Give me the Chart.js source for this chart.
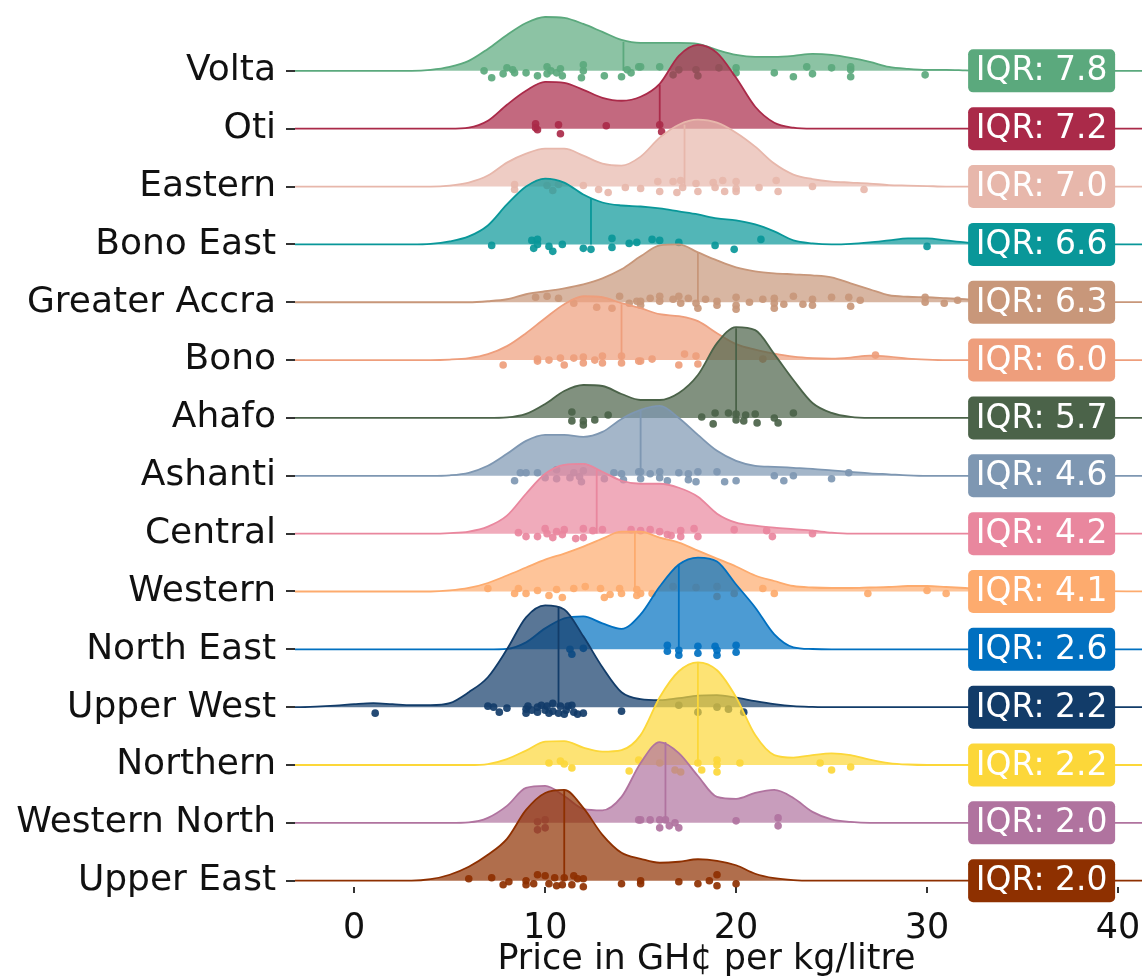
<!DOCTYPE html>
<html>
<head>
<meta charset="utf-8">
<script src="https://cdn.jsdelivr.net/npm/chart.js@4.4.1/dist/chart.umd.min.js"></script>
<style>
  html, body { margin: 0; padding: 0; background: #fff; overflow: hidden; }
  #wrap { width: 1142px; height: 979px; }
</style>
</head>
<body>
<div id="wrap"><canvas id="ridges" width="1142" height="979"></canvas></div>
<script>
// regions, top row first
const regions = ['Volta', 'Oti', 'Eastern', 'Bono East', 'Greater Accra', 'Bono', 'Ahafo', 'Ashanti',
  'Central', 'Western', 'North East', 'Upper West', 'Northern', 'Western North', 'Upper East'];
const regionColors = ['#5BA97D', '#AA2A49', '#E7B7AB', '#099799', '#C8977A', '#EE9E7C', '#4B6349', '#7E97B2',
  '#E9879E', '#FDAB6E', '#0070C0', '#123C69', '#FCD739', '#B0739F', '#8E3000'];
const iqrValues = [7.8, 7.2, 7.0, 6.6, 6.3, 6.0, 5.7, 4.6, 4.2, 4.1, 2.6, 2.2, 2.2, 2.0, 2.0];
const priceTicks = [0, 10, 20, 30, 40];

// density heights (scaled, one row = 58) on this price grid
const priceGrid = [-3, -2, -1, 0, 1, 2, 3, 4, 5, 6, 7, 8, 9, 10, 11, 12, 13, 14, 15, 16, 17, 18,
  19, 20, 21, 22, 23, 24, 25, 26, 27, 28, 29, 30, 31, 32, 33];
const voltaDensity = [0,0,0,0,0,0,0, 1,4,10,22,36,48,54,53,47,39,31,28,28,28,27,21,16,14,14,15,17,16,13,9,4,2,1,1,0.5,0];
const otiDensity = [0,0,0,0,0,0,0,0,0, 1,8,24,38,47,46,39,31,28,32,45,73,84,76,51,22,6,1, 0,0,0,0,0,0,0,0,0,0];
const easternDensity = [0,0,0,0,0,0,0,0, 1,4,11,24,33,38,38,31,23,21,30,49,62,67,64,54,40,23,12,7.5,5,4,3,1.5,1,0.5,0,0,0];
const bonoEastDensity = [0,0,0,0,0,0,0, 0.5,3,8,19,40,58,66,62,50,42,39,38,36,33,30,26,24,20,13,4,1,0,0.5,2,4,6,6,4,2,0.5];
const greaterAccraDensity = [0,0,0,0,0,0,0,0,0,0, 1,3,8,11,14,18,24,33,46,57,58,50,42,35,31,29,28,27,25,19,13,7,5.5,5,4,3,2];
const bonoDensity = [0,0,0,0,0,0,0,0, 0.5,2,6,14,27,42,56,64,63,57,52,46,44,39,27,16,10.5,6.5,3.5,2,1.5,2.5,4.5,3.5,1.5,0.5,0,0,0];
const ahafoDensity = [0,0,0,0,0,0,0,0,0,0,0, 0.5,4,14,27,33,32,24,18,18,25,43,75,91,88,64,38,15,5,1, 0,0,0,0,0,0,0];
const ashantiDensity = [0,0,0,0,0,0,0,0, 0.5,3,10,22,35,41,41,39,44,57,66,70,58,41,25,15,10,9,8,7,5.5,4,2.5,1.5,0.5, 0,0,0,0];
const centralDensity = [0,0,0,0,0,0,0,0, 0.5,2,7,18,40,60,69,70,62,53,50,50,46,37,20,11,8,6,4.5,3,1, 0,0,0,0,0,0,0,0];
const westernDensity = [0,0,0,0,0,0,0,0, 1,3.5,8.5,16,24,32,38,45,53,60,60,54,49,41,33,25,16,10.5,5.5,4,3.5,3.5,4,4.5,5.5,5.5,4.5,3.5,2.5];
const northEastDensity = [0,0,0,0,0,0,0,0,0,0,0, 0.5,7,21,31,33,26,20.5,35,63,85,92,88,65,42,15,2,0.3, 0,0,0,0,0,0,0,0,0];
const upperWestDensity = [0,0.5,1.5,3,4,3,2,2,4,15,30,58,90,102,98,71,40,15,8,7,9,11.5,12,9.5,6,3,1,0.3, 0,0,0,0,0,0,0,0,0];
const northernDensity = [0,0,0,0,0,0,0,0,0,0, 1,6,14.5,23.5,24,17.5,13.5,15,30,68,94,103,95,68,30,10,7.5,10,11.7,10,5.5,2,0.5, 0,0,0,0];
const westernNorthDensity = [0,0,0,0,0,0,0,0,0, 0.5,5,17,35,37,27,14,12.5,26,60,81,70,47,26,24,30,33,25,11,3.5,1, 0,0,0,0,0,0,0];
const upperEastDensity = [0,0,0,0,0,0,0, 1.5,6,14,26,42,71,88,91,73,46,28,22,18,19,21.5,20,15.5,7,2.5,0.5, 0,0,0,0,0,0,0,0,0,0];

// medians and the curve height where the median line stops
const medians = [14.1, 16.0, 17.3, 12.4, 18.0, 14.0, 20.0, 15.0, 12.7, 14.7, 17.0, 10.7, 18.0, 16.3, 11.0];
const medianHeights = [29, 44, 62, 46, 50, 56, 90, 66, 64, 60, 85, 101, 103, 81, 91];

// jittered observations: price, and vertical jitter (same units as heights)
const voltaDots = [6.8,7.2,7.8,8.0,8.3,8.4,9.0,9.6,10.1,10.1,10.3,10.6,10.8,10.9,12.0,12.0,11.9,13.1,14.0,14.3,
  14.5,14.9,15.0,16.0,16.7,17.0,17.9,18.0,19.1,20.0,20.0,22.0,23.0,23.7,24.0,25.0,26.0,26.0,26.0,29.9];
const voltaJitter = [0,-7,-3,3,1,-2,-2,-5,4,-3,0,-2,2,-5,6,0,-7,-5,-6,1,-2,4,4,4,-4,1,1,-5,3,3,-2,-2,-6,4,-3,3,4,-6,1,-4];
const otiDots = [9.5,9.5,9.6,10.7,10.8,13.2,16.0,16.1];
const otiJitter = [5,1,-1,4,-5,3,4,-3];
const easternDots = [8.4,8.4,10.1,10.4,10.7,12.0,12.8,13.3,14.2,15.0,15.9,16.0,16.7,16.9,17.1,17.2,17.9,18.0,18.8,18.9,
  19.3,19.4,20.0,20.0,20.0,21.2,22.1,22.2,24.0,26.7];
const easternJitter = [2,-3,1,-4,2,1,-3,-6,-1,-2,5,-5,5,-6,6,-1,3,-5,4,-1,6,-5,5,-2,-5,-1,6,-5,0,-3];
const bonoEastDots = [7.2,9.3,9.4,9.6,9.6,10.2,10.4,10.9,12.0,12.4,13.5,13.5,14.4,14.8,15.6,16.0,17.0,18.9,19.9,21.3,30.0];
const bonoEastJitter = [-1,4,-4,5,0,-2,-7,0,-4,-5,6,-3,1,2,5,4,2,-1,-5,5,-2];
const greaterAccraDots = [9.5,10.1,10.7,11.5,12.7,13.5,13.9,14.4,14.8,15.0,15.0,15.5,16.0,16.0,16.7,17.0,17.1,17.5,17.9,18.0,
  18.4,19.0,19.0,20.0,20.0,20.0,20.7,21.4,22.0,22.0,22.0,22.5,23.0,23.5,24.0,24.0,25.0,25.9,26.0,26.5,29.9,29.9,30.9,31.6];
const greaterAccraJitter = [5,6,4,-1,-5,-6,6,-1,1,1,-3,4,6,1,3,6,-1,4,-1,-6,3,1,-3,5,-3,-7,0,3,4,-1,-6,-2,6,-2,3,-3,5,5,-4,2,5,0,-1,2];
const bonoDots = [7.8,9.6,9.6,10.2,10.8,11.0,11.5,12.0,12.0,12.6,13.0,13.0,14.0,14.0,14.9,15.0,15.6,17.0,17.3,17.9,18.0,21.4,27.3];
const bonoJitter = [-5,1,-1,0,2,-5,2,3,-3,0,4,-3,4,-3,-1,-1,1,-5,6,4,-4,1,5];
const ahafoDots = [11.4,11.4,12.0,12.0,12.6,13.3,18.2,18.9,18.8,19.6,20.0,20.0,20.4,20.5,21.0,21.1,22.0,22.2,23.0];
const ahafoJitter = [6,-3,-3,-7,-2,3,1,5,-6,5,4,-2,-3,3,4,-5,0,-5,5];
const ashantiDots = [8.4,8.7,9.0,9.6,10.0,10.6,10.6,11.3,11.5,11.8,12.0,11.9,13.1,13.6,14.0,14.1,14.9,15.0,15.0,15.5,
  16.0,16.0,16.4,17.0,17.5,17.5,17.9,18.0,19.0,19.4,20.0,22.0,22.5,23.0,25.0,25.9];
const ashantiJitter = [-5,3,3,3,-2,6,-3,-2,3,-1,5,-6,-3,3,2,-4,4,4,-3,2,4,-2,-5,3,2,-4,-6,4,4,-6,-5,0,-5,0,-3,3];
const centralDots = [8.6,9.0,9.6,10.0,10.1,10.4,10.6,10.9,11.0,11.6,12.0,12.0,12.5,13.0,14.5,15.0,15.5,16.0,16.4,16.6,
  17.1,17.1,17.8,18.0,19.9,21.6,21.9,24.0];
const centralJitter = [1,-3,-3,5,0,-4,2,-1,4,-5,5,-4,3,4,4,3,4,2,-1,-2,3,-3,5,-3,4,3,-3,0];
const westernDots = [7.0,8.4,8.6,9.0,9.6,10.2,10.6,10.9,11.5,12.1,12.9,13.1,13.4,13.9,14.0,14.8,14.8,15.0,15.6,16.7,
  17.9,19.0,19.0,19.9,21.4,22.0,26.9,30.0,31.0];
const westernJitter = [3,-2,3,-2,1,-4,2,-6,3,5,3,-6,-3,3,-2,2,-4,-2,-2,5,4,5,-5,-2,3,-2,-2,1,-2];
const northEastDots = [11.3,11.4,12.0,16.4,16.4,17.0,17.0,18.0,18.0,18.9,19.0,19.0,20.0,20.0];
const northEastJitter = [0,-5,1,4,-2,-1,-6,3,-4,3,-1,-6,4,-3];
const upperWestDots = [1.1,7.0,7.3,7.6,8.0,9.0,9.0,9.1,9.6,9.6,10.0,10.1,10.4,10.4,10.8,11.0,11.1,11.4,11.5,11.7,
  12.0,14.0,17.0,18.0,19.0,19.6,20.4,9.3,10.7,11.2,10.2,9.8];
const upperWestJitter = [-6,1,0,-5,-1,-2,-6,1,0,-5,-3,1,4,-4,1,-7,-3,2,-5,-7,-6,-4,2,-5,0,-2,-5,-3,-6,1,-6,2];
const northernDots = [10.2,10.8,11.0,11.4,14.4,14.9,16.0,16.8,17.1,18.0,18.2,19.0,19.0,19.0,20.2,24.4,25.0,26.0];
const northernJitter = [2,4,1,-3,-6,5,2,-5,-7,2,-5,5,0,-7,2,2,-5,-2];
const westernNorthDots = [9.6,9.6,10.0,10.0,14.9,15.0,15.5,16.0,16.0,16.3,16.5,16.8,17.0,20.0,22.2,22.2];
const westernNorthJitter = [1,-7,3,-5,3,3,3,3,-5,3,-3,0,-5,2,5,-3];
const upperEastDots = [6.0,7.2,7.8,8.1,9.0,9.0,9.4,9.6,10.0,10.2,10.5,10.6,10.9,11.0,11.4,11.5,11.7,12.0,12.0,14.0,
  15.0,15.0,17.0,18.0,18.6,19.0,19.0,20.0];
const upperEastJitter = [2,3,-4,-1,0,-4,-3,6,5,-3,3,-5,-4,3,-4,5,2,2,-6,-3,0,-3,-1,-3,0,-5,6,-3];

const densities = [voltaDensity, otiDensity, easternDensity, bonoEastDensity, greaterAccraDensity, bonoDensity,
  ahafoDensity, ashantiDensity, centralDensity, westernDensity, northEastDensity, upperWestDensity,
  northernDensity, westernNorthDensity, upperEastDensity];
const dotPrices = [voltaDots, otiDots, easternDots, bonoEastDots, greaterAccraDots, bonoDots, ahafoDots, ashantiDots,
  centralDots, westernDots, northEastDots, upperWestDots, northernDots, westernNorthDots, upperEastDots];
const dotJitters = [voltaJitter, otiJitter, easternJitter, bonoEastJitter, greaterAccraJitter, bonoJitter, ahafoJitter,
  ashantiJitter, centralJitter, westernJitter, northEastJitter, upperWestJitter, northernJitter, westernNorthJitter, upperEastJitter];

const rowGap = 58;
const xMin = -3.1, xMax = 40, xEdge = 41.3;
const iqrAt = 36;
const FONT = "'DejaVu Sans', sans-serif";

function rowBase(i) {
  return (regions.length - 1 - i) * rowGap;
}

function withAlpha(hex, a) {
  const n = parseInt(hex.slice(1), 16);
  return 'rgba(' + (n >> 16) + ',' + ((n >> 8) & 255) + ',' + (n & 255) + ',' + a + ')';
}

var datasets = [];
regions.forEach(function (name, i) {
  var base = rowBase(i);
  var col = regionColors[i];
  var curve = [{x: xMin, y: base}];
  priceGrid.forEach(function (p, k) {
    curve.push({x: p, y: base + densities[i][k]});
  });
  curve.push({x: xEdge, y: base});

  datasets.push({
    label: name,
    data: curve,
    borderColor: col,
    backgroundColor: withAlpha(col, 0.7),
    borderWidth: 1.8,
    fill: {value: base},
    pointRadius: 0,
    cubicInterpolationMode: 'monotone',
    clip: false,
    order: (15 - i) * 3
  });
  datasets.push({
    label: name + ' median',
    data: [{x: medians[i], y: base}, {x: medians[i], y: base + medianHeights[i]}],
    borderColor: col,
    borderWidth: 1.8,
    pointRadius: 0,
    fill: false,
    order: (15 - i) * 3 - 1
  });
  datasets.push({
    label: name + ' obs',
    data: dotPrices[i].map(function (p, k) { return {x: p, y: base + dotJitters[i][k]}; }),
    showLine: false,
    pointRadius: 3.8,
    pointBorderWidth: 0,
    pointBackgroundColor: withAlpha(col, 0.92),
    clip: false,
    order: (15 - i) * 3 - 2
  });
});

const iqrBoxes = {
  id: 'iqrBoxes',
  afterDatasetsDraw(chart) {
    const ctx = chart.ctx;
    const x = chart.scales.x, y = chart.scales.y;
    ctx.save();
    ctx.font = '33px ' + FONT;
    ctx.textAlign = 'center';
    ctx.textBaseline = 'middle';
    regions.forEach(function (name, i) {
      const cx = x.getPixelForValue(iqrAt);
      const cy = y.getPixelForValue(rowBase(i));
      const w = 147, h = 43;
      ctx.fillStyle = regionColors[i];
      ctx.beginPath();
      ctx.roundRect(cx - w / 2, cy - h / 2, w, h, 5);
      ctx.fill();
      ctx.fillStyle = '#fff';
      ctx.fillText('IQR: ' + iqrValues[i].toFixed(1), cx, cy + 1);
    });
    ctx.restore();
  }
};

new Chart(document.getElementById('ridges'), {
  type: 'line',
  data: {datasets: datasets},
  options: {
    responsive: false,
    animation: false,
    devicePixelRatio: 1,
    layout: {padding: {top: 10, right: 24, left: 0, bottom: 0}},
    plugins: {legend: {display: false}, tooltip: {enabled: false}},
    scales: {
      x: {
        type: 'linear',
        min: xMin,
        max: xMax,
        afterBuildTicks: function (scale) {
          scale.ticks = priceTicks.map(function (v) { return {value: v}; });
        },
        afterFit: function (scale) {
          scale.height = 92;
          scale.paddingLeft = 0;
          scale.paddingRight = 0;
        },
        ticks: {font: {family: FONT, size: 35}, color: '#111', padding: 15, maxRotation: 0},
        grid: {drawOnChartArea: false, drawTicks: true, tickLength: 6, color: '#333', lineWidth: 2},
        border: {display: false},
        title: {
          display: true,
          text: 'Price in GH¢ per kg/litre',
          font: {family: FONT, size: 35, lineHeight: 1.1},
          color: '#111',
          padding: {top: 0, bottom: 0}
        }
      },
      y: {
        type: 'linear',
        min: -6.3,
        max: 873,
        afterBuildTicks: function (scale) {
          scale.ticks = regions.map(function (r, i) { return {value: rowBase(i)}; });
        },
        afterFit: function (scale) {
          scale.width = 295;
          scale.paddingTop = 0;
          scale.paddingBottom = 0;
        },
        ticks: {
          font: {family: FONT, size: 36},
          color: '#111',
          padding: 10,
          callback: function (value) {
            return regions[regions.length - 1 - Math.round(value / rowGap)];
          }
        },
        grid: {drawOnChartArea: false, drawTicks: true, tickLength: 9, color: '#333', lineWidth: 2},
        border: {display: false}
      }
    }
  },
  plugins: [iqrBoxes]
});
</script>
</body>
</html>
